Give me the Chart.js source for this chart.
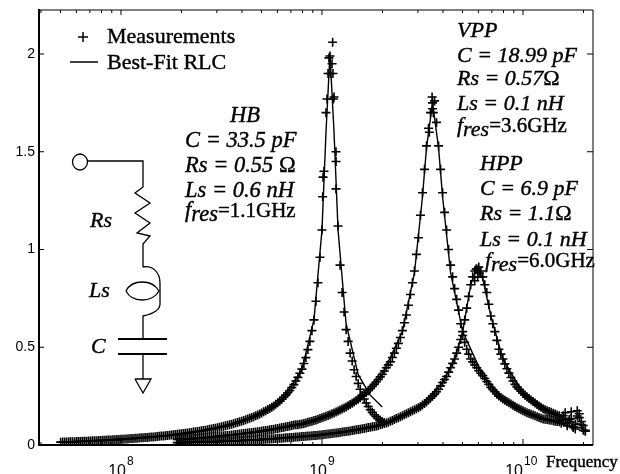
<!DOCTYPE html>
<html>
<head>
<meta charset="utf-8">
<style>
  body { margin: 0; background: #fff; }
  canvas { display: block; }
</style>
<script src="https://cdn.jsdelivr.net/npm/chart.js@4"></script>
</head>
<body>
<canvas id="chart" width="620" height="474"></canvas>
<script>
// measurement frequencies in GHz (5e7 Hz to 2e10 Hz)
const freqGHz = [
  .0501,.0525,.0550,.0575,.0603,.0631,.0661,.0692,.0724,.0759,.0794,.0832,.0871,.0912,.0955,
  .1000,.1047,.1096,.1148,.1202,.1259,.1318,.1380,.1445,.1514,.1585,.1660,.1738,.1820,.1905,
  .1995,.2089,.2188,.2291,.2399,.2512,.2630,.2754,.2884,.3020,.3162,.3311,.3467,.3631,.3802,
  .3981,.4169,.4365,.4571,.4786,.5012,.5248,.5495,.5754,.6026,.6310,.6607,.6918,.7244,.7586,
  .7943,.8318,.8710,.9120,.9550,
  1.000,1.047,1.096,1.148,1.202,1.259,1.318,1.380,1.445,1.514,1.585,1.660,1.738,1.820,1.905,
  1.995,2.089,2.188,2.291,2.399,2.512,2.630,2.754,2.884,3.020,3.162,3.311,3.467,3.631,3.802,
  3.981,4.169,4.365,4.571,4.786,5.012,5.248,5.495,5.754,6.026,6.310,6.607,6.918,7.244,7.586,
  7.943,8.318,8.710,9.120,9.550,
  10.00,10.47,10.96,11.48,12.02,12.59,13.18,13.80,14.45,15.14,15.85,16.60,17.38,18.20,19.05,19.95
];

// HB, first 81 frequencies
const hbMeas = [
  .0146,.0153,.016,.0168,.0176,.0184,.0193,.0202,.0212,.0222,.0232,.0244,.0255,.0267,.028,
  .0293,.0305,.032,.0335,.035,.0365,.038,.0397,.0415,.0434,.0455,.0475,.05,.052,.0545,.057,.06,.063,.066,.069,
  .0725,.076,.08,.084,.088,.093,.098,.103,.109,.115,.122,.129,.137,.145,.154,.164,.175,.187,.2,.216,
  .234,.255,.279,.309,.346,.388,.447,.53,.64,.83,
  1.1,1.7,1.99,1.78,1.12,.78,.59,.47,.385,.315,.255,.215,.18,.155,.135,.12
];
// VPP and HPP, from 0.19 GHz up
const vppMeas = [
  .028,.029,.031,.032,.033,.035,.037,.038,.04,.042,.044,.046,.048,.05,.052,.055,.057,.06,.063,.065,
  .068,.071,.074,.078,.081,.085,.089,.093,.097,.102,.104,.107,.113,.119,.125,.132,
  .139,.147,.155,.164,.174,.184,.195,.207,.22,.234,.25,.268,.288,.31,.335,.362,.395,.425,.47,.52,
  .585,.665,.77,.89,1.06,1.29,1.53,1.7,1.76,1.53,1.29,1.1,.92,.8,.69,.56,.49,.44,.41,.38,
  .355,.325,.295,.272,.25,.235,.222,.21,.197,.185,
  .175,.165,.157,.149,.141,.133,.13,.126,.122,.119,.128,.098,.135,.082,.14,.075
];
const hppMeas = [
  .012,.0125,.013,.0135,.014,.0145,.015,.0155,.016,.017,.0175,.0185,.019,.02,.021,.022,.023,.024,.025,.026,
  .027,.028,.03,.031,.032,.034,.035,.037,.038,.04,.041,.043,.045,.046,.048,.05,
  .053,.055,.058,.06,.063,.066,.069,.072,.076,.079,.083,.087,.091,.095,.1,.106,.113,.121,.13,.14,
  .15,.16,.17,.18,.19,.205,.22,.24,.26,.285,.32,.35,.395,.44,.5,.58,.7,.82,.89,.91,
  .86,.78,.66,.58,.49,.44,.39,.345,.31,.285,
  .265,.245,.23,.215,.2,.185,.175,.167,.158,.15,.15,.11,.17,.105,.16,.1
];

const freqMidGHz = [
  .0513,.0537,.0562,.0589,.0617,.0646,.0676,.0708,.0741,.0776,.0813,.0851,.0891,.0933,.0977,
  .1023,.1072,.1122,.1175,.1230,.1288,.1349,.1413,.1479,.1549,.1622,.1698,.1778,.1862,.1950,
  .2042,.2138,.2239,.2344,.2455,.2570,.2692,.2818,.2951,.3090,.3236,.3388,.3548,.3715,.3890,
  .4074,.4266,.4467,.4677,.4898,.5129,.5370,.5623,.5888,.6166,.6457,.6761,.7079,.7413,.7762,
  .8128,.8511,.8913,.9333,.9772,
  1.023,1.072,1.122,1.175,1.230,1.288,1.349,1.413,1.479,1.549,1.622,1.698,1.778,1.862,1.950,
  2.042,2.138,2.239,2.344,2.455,2.570,2.692,2.818,2.951,3.090,3.236,3.388,3.548,3.715,3.890,
  4.074,4.266,4.467,4.677,4.898,5.129,5.370,5.623,5.888,6.166,6.457,6.761,7.079,7.413,7.762,
  8.128,8.511,8.913,9.333,9.772,
  10.23,10.72,11.22,11.75,12.30,12.88,13.49,14.13,14.79,15.49,16.22,16.98,17.78,18.62,19.50,20.42
];
const hbMidMeas = [
  .015,.0157,.0164,.0172,.018,.0188,.0197,.0207,.0217,.0227,.0238,.025,.0261,.0273,.0286,
  .0299,.0312,.0327,.0342,.0357,.0372,.0388,.0406,.0424,.0444,.0465,.0487,.051,.0532,.0557,.0585,.0615,.0645,.0675,.0707,
  .0742,.078,.082,.086,.0905,.0955,.1005,.106,.112,.1185,.1255,.133,.141,.1495,.159,.1695,.181,.1935,.208,.225,
  .244,.267,.294,.327,.367,.417,.488,.585,.735,.96,
  1.4,1.9,1.95,1.45,.92,.68,.53,.43,.35,.285,.235,.197,.167,.145,.127,.115
];
const vppMidMeas = [
  .0285,.03,.0315,.0325,.034,.036,.0375,.039,.041,.043,.045,.047,.049,.051,.0535,.056,.0585,.0615,.064,.0665,
  .0695,.0725,.076,.0795,.083,.087,.091,.095,.0995,.103,.1055,.11,.116,.122,.1285,.1355,
  .143,.151,.1595,.169,.179,.1895,.201,.2135,.227,.242,.259,.278,.299,.3225,.3485,.3785,.41,.4475,.495,.55,
  .625,.715,.83,.975,1.175,1.41,1.62,1.75,1.65,1.41,1.19,1.0,.86,.745,.62,.525,.465,.425,.395,.367,
  .34,.31,.283,.261,.2425,.2285,.216,.2035,.191,.18,
  .17,.161,.153,.145,.137,.1315,.128,.124,.12,.112,.136,.118,.092,.148,.105,.07
];
const hppMidMeas = [
  .0122,.0127,.0132,.0137,.0142,.0147,.0152,.0157,.0165,.0172,.018,.0187,.0195,.0205,.0215,.0225,.0235,.0245,.0255,.0265,
  .0275,.029,.0305,.0315,.033,.0345,.036,.0375,.039,.0405,.042,.044,.0455,.047,.049,.0515,
  .054,.0565,.059,.0615,.0645,.0675,.0705,.074,.0775,.081,.085,.089,.093,.0975,.103,.1095,.117,.1255,.135,.145,
  .155,.165,.175,.185,.1975,.2125,.23,.25,.2725,.3025,.335,.3725,.4175,.47,.54,.64,.76,.86,.9,.89,
  .82,.72,.62,.535,.465,.415,.3675,.3275,.2975,.275,
  .255,.2375,.2225,.2075,.1925,.18,.171,.1625,.154,.13,.165,.13,.09,.175,.12,.075
];

// extra marks crowded around the peaks
const hbPeakFreq = [1.008,1.012,1.059,1.083,1.10,1.130,1.134,1.14,1.174,1.174];
const hbPeakVals = [1.27,1.37,1.77,1.98,1.9,2.06,1.9,1.77,1.5,1.31];
const vppPeakFreq = [3.53,3.55,3.58,3.42];
const vppPeakVals = [1.78,1.72,1.7,1.6];
const hppPeakFreq = [5.75,5.85,5.95,6.05];
const hppPeakVals = [.84,.9,.86,.88];

// best-fit RLC curves
const hbFitFreq = [.0501,.1,.1995,.3162,.5012,.631,.7943,.912,1,1.047,1.096,1.148,1.202,1.318,1.514,1.738,1.995];
const hbFitVals = [.0135,.027,.055,.09,.16,.23,.385,.64,1.1,1.6,2.0,1.6,1.1,.62,.36,.255,.194];
const vppFitFreq = [.1905,.3162,.5012,.7943,1,1.259,1.585,1.995,2.512,2.884,3.162,3.311,3.548,3.802,3.981,4.365,5.012,6.31,7.943,10,12.59,15.85,19.95];
const vppFitVals = [.027,.044,.07,.107,.137,.18,.245,.36,.58,.88,1.27,1.52,1.75,1.52,1.27,.88,.58,.355,.235,.175,.135,.105,.085];
const hppFitFreq = [.1905,.3981,.7943,1.259,1.995,2.512,3.162,3.981,4.571,5.012,5.495,5.888,6.31,6.918,7.943,10,12.59,15.85,19.95];
const hppFitVals = [.011,.022,.042,.065,.105,.15,.205,.32,.44,.58,.82,.91,.85,.66,.44,.265,.185,.135,.1];

const yTicks = [0, 0.5, 1, 1.5, 2];
const xDecades = [0.1, 1, 10];
const xExponents = ['8', '9', '10'];
const xMantissas = [2, 3, 4, 5, 6, 7, 8, 9];

const INK = '#000000';
const SERIF = '"Liberation Serif"';
const SANS = '"Liberation Sans"';

function toPoints(xs, ys) {
    return ys.map((y, i) => ({ x: xs[i], y }));
}

function measDataset(points) {
    return { data: points, showLine: false, pointStyle: 'cross', pointRadius: 4.5, pointBorderWidth: 1.6, pointBorderColor: INK };
}

function fitDataset(points) {
    return { data: points, showLine: true, borderColor: INK, borderWidth: 1.4, pointRadius: 0, tension: 0 };
}

function line(ctx, pts) {
    ctx.beginPath();
    pts.forEach((p, i) => i ? ctx.lineTo(p[0], p[1]) : ctx.moveTo(p[0], p[1]));
    ctx.stroke();
}

// the scan makes the serif text look heavy, so stroke it a little
function inkText(ctx, text, x, y) {
    ctx.lineWidth = 0.4;
    ctx.strokeStyle = INK;
    ctx.fillText(text, x, y);
    ctx.strokeText(text, x, y);
}

// frame and inward ticks, like the original figure
function drawFrame(ctx, chart) {
    const { left, right, top, bottom } = chart.chartArea;
    const xs = chart.scales.x, ys = chart.scales.y;
    ctx.strokeStyle = INK;
    ctx.lineWidth = 1;
    yTicks.forEach(v => {
        const y = ys.getPixelForValue(v);
        line(ctx, [[left, y], [left + 5, y]]);
        line(ctx, [[right - 6, y], [right, y]]);
    });
    xDecades.forEach(d => {
        const x = xs.getPixelForValue(d);
        line(ctx, [[x, bottom], [x, bottom - 6]]);
        line(ctx, [[x, top], [x, top + 5]]);
    });
    [0.01, 0.1, 1, 10].forEach(d => xMantissas.forEach(m => {
        const v = d * m;
        if (v < xs.min || v > xs.max) return;
        const x = xs.getPixelForValue(v);
        line(ctx, [[x, bottom], [x, bottom - 3]]);
        line(ctx, [[x, top], [x, top + 3]]);
    }));
    line(ctx, [[left, top], [right, top], [right, bottom]]);
    ctx.lineWidth = 2;
    line(ctx, [[left, top - 1], [left, bottom], [right, bottom]]);
}

function drawXLabels(ctx, chart) {
    const xs = chart.scales.x;
    const shift = [5, 5, 0];
    ctx.fillStyle = INK;
    ctx.textBaseline = 'alphabetic';
    xDecades.forEach((d, i) => {
        const x = xs.getPixelForValue(d) + shift[i];
        ctx.font = '16px ' + SANS;
        ctx.textAlign = 'right';
        ctx.fillText('10', x, 476);
        ctx.font = '12px ' + SANS;
        ctx.textAlign = 'left';
        ctx.fillText(xExponents[i], x + 1, 465);
    });
    ctx.font = '17px ' + SERIF;
    inkText(ctx, 'Frequency', 546, 467);
}

function drawLegend(ctx) {
    ctx.font = '22px ' + SERIF;
    ctx.textAlign = 'left';
    inkText(ctx, 'Measurements', 107, 43);
    inkText(ctx, 'Best-Fit RLC', 107, 69);
    ctx.lineWidth = 1.5;
    line(ctx, [[78, 37], [88, 37]]);
    line(ctx, [[83, 32], [83, 42]]);
    line(ctx, [[70, 62], [98, 62]]);
}

function drawBlock(ctx, x, size, lines, fres) {
    ctx.textAlign = 'left';
    lines.forEach(l => {
        ctx.font = 'italic ' + size + 'px ' + SERIF;
        const px = l.x === undefined ? x : l.x;
        inkText(ctx, l.t, px, l.y);
        if (l.ohm) {
            const w = ctx.measureText(l.t).width;
            ctx.font = size + 'px ' + SERIF;
            inkText(ctx, 'Ω', px + w, l.y);
        }
    });
    ctx.font = 'italic ' + size + 'px ' + SERIF;
    inkText(ctx, 'f', fres.x, fres.y);
    const fw = ctx.measureText('f').width;
    inkText(ctx, 'res', fres.x + fw, fres.y + 4);
    const rw = ctx.measureText('res').width;
    ctx.font = '21px ' + SERIF;
    inkText(ctx, fres.t, fres.x + fw + rw, fres.y);
}

function drawNotes(ctx) {
    drawBlock(ctx, 185, 22.5, [
        { t: 'HB', x: 230, y: 122 },
        { t: 'C = 33.5 pF', y: 147 },
        { t: 'Rs = 0.55 ', ohm: true, y: 172 },
        { t: 'Ls = 0.6 nH', y: 197 }
    ], { x: 185, y: 217, t: '=1.1GHz' });
    drawBlock(ctx, 457, 22, [
        { t: 'VPP', y: 37 },
        { t: 'C = 18.99 pF', y: 62 },
        { t: 'Rs = 0.57', ohm: true, y: 85 },
        { t: 'Ls = 0.1 nH', y: 110 }
    ], { x: 457, y: 132, t: '=3.6GHz' });
    drawBlock(ctx, 480, 22, [
        { t: 'HPP', y: 170 },
        { t: 'C = 6.9 pF', y: 195 },
        { t: 'Rs = 1.1', ohm: true, y: 220 },
        { t: 'Ls = 0.1 nH', y: 246 }
    ], { x: 485, y: 267, t: '=6.0GHz' });
}

// the RLC circuit sketch on the left
function drawCircuit(ctx) {
    ctx.strokeStyle = INK;
    ctx.lineWidth = 1.3;
    ctx.beginPath();
    ctx.ellipse(80, 162, 7.5, 8, 0, 0, Math.PI * 2);
    ctx.stroke();
    line(ctx, [[87.5, 161], [143, 161], [143, 187], [135, 193], [150, 203], [135, 213], [150, 223], [137, 233], [150, 236], [143, 244], [143, 267]]);
    ctx.beginPath();
    ctx.moveTo(143, 267);
    ctx.bezierCurveTo(152, 265, 160, 272, 160, 283);
    ctx.lineTo(160, 304);
    ctx.bezierCurveTo(160, 310, 152, 314, 143, 316);
    ctx.lineTo(143, 339);
    ctx.stroke();
    ctx.beginPath();
    ctx.moveTo(126, 291);
    ctx.bezierCurveTo(132, 279, 152, 279, 159, 291);
    ctx.bezierCurveTo(152, 303, 132, 303, 126, 291);
    ctx.stroke();
    ctx.lineWidth = 1.8;
    line(ctx, [[118, 339], [167, 339]]);
    line(ctx, [[118, 354], [167, 354]]);
    ctx.lineWidth = 1.3;
    line(ctx, [[143, 354], [143, 379]]);
    line(ctx, [[135, 379], [151, 379], [143, 393], [135, 379]]);
    ctx.font = 'italic 22px ' + SERIF;
    ctx.textAlign = 'left';
    inkText(ctx, 'Rs', 90, 227);
    inkText(ctx, 'Ls', 89, 297);
    inkText(ctx, 'C', 91, 353);
}

const figurePlugin = {
    id: 'figure',
    afterDatasetsDraw(chart) {
        const ctx = chart.ctx;
        ctx.save();
        drawFrame(ctx, chart);
        drawXLabels(ctx, chart);
        drawLegend(ctx);
        drawNotes(ctx);
        drawCircuit(ctx);
        ctx.restore();
    }
};

new Chart(document.getElementById('chart'), {
    type: 'scatter',
    data: {
        datasets: [
            fitDataset(toPoints(hbFitFreq, hbFitVals)),
            fitDataset(toPoints(vppFitFreq, vppFitVals)),
            fitDataset(toPoints(hppFitFreq, hppFitVals)),
            measDataset([...toPoints(freqGHz, hbMeas), ...toPoints(freqMidGHz, hbMidMeas), ...toPoints(hbPeakFreq, hbPeakVals)]),
            measDataset([...toPoints(freqGHz.slice(29), vppMeas), ...toPoints(freqMidGHz.slice(29), vppMidMeas), ...toPoints(vppPeakFreq, vppPeakVals)]),
            measDataset([...toPoints(freqGHz.slice(29), hppMeas), ...toPoints(freqMidGHz.slice(29), hppMidMeas), ...toPoints(hppPeakFreq, hppPeakVals)])
        ]
    },
    options: {
        responsive: false,
        animation: false,
        layout: { padding: { top: 10, right: 27, left: 0, bottom: 0 } },
        plugins: { legend: { display: false }, tooltip: { enabled: false } },
        scales: {
            x: {
                type: 'logarithmic',
                min: 0.0391,
                max: 22.3,
                grid: { display: false },
                border: { display: false },
                ticks: { display: false },
                afterFit: s => { s.height = 29; s.paddingLeft = 0; s.paddingRight = 0; }
            },
            y: {
                min: 0,
                max: 2.225,
                grid: { display: false, drawTicks: false },
                border: { display: false },
                ticks: {
                    stepSize: 0.5,
                    includeBounds: false,
                    padding: 4,
                    color: INK,
                    font: { family: SANS, size: 14 },
                    callback: v => String(v)
                },
                afterFit: s => { s.width = 39; s.paddingTop = 0; s.paddingBottom = 0; }
            }
        }
    },
    plugins: [figurePlugin]
});
</script>
</body>
</html>
